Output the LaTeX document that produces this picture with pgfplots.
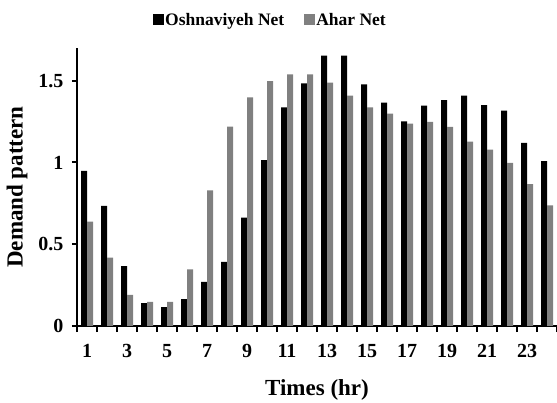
\documentclass[border=0pt]{standalone}
\usepackage{fontspec}
\setmainfont{Liberation Serif}
\usepackage{pgfplots}
\pgfplotsset{compat=1.18}
\definecolor{ahargray}{HTML}{808080}
\begin{document}
\begin{tikzpicture}
\useasboundingbox (0,0) rectangle (557bp,403bp);
\begin{axis}[
    at={(77bp,77bp)}, anchor=south west,
    width=480bp, height=278bp, scale only axis,
    font=\bfseries,
    /pgf/number format/assume math mode=true,
    ybar=0pt, bar width=6bp,
    xmin=0.5, xmax=24.5, ymin=0, ymax=1.7,
    axis x line*=bottom, axis y line*=left,
    axis line style={-, line width=2.5bp},
    xtick={1,3,...,23},
    minor xtick={0.5,1.5,...,24.5},
    major x tick style={draw=none},
    ytick={0,0.5,1,1.5},
    tick align=outside,
    major tick length=5bp, minor tick length=6bp,
    tick style={line width=2bp, black},
    xticklabel style={font=\fontsize{20bp}{20bp}\selectfont\bfseries, yshift=-10bp},
    yticklabel style={font=\fontsize{20bp}{20bp}\selectfont\bfseries, xshift=-5bp},
    xlabel={Times (hr)},
    ylabel={Demand pattern},
    xlabel style={font=\fontsize{23bp}{23bp}\selectfont\bfseries, at={(axis description cs:0.5,-0.23)}, anchor=center},
    ylabel style={font=\fontsize{23bp}{23bp}\selectfont\bfseries, at={(axis description cs:-0.125,0.5)}, anchor=center},
    legend columns=2,
    legend style={at={(axis description cs:0.402,1.10)}, anchor=center, draw=none,
        font=\fontsize{17.5bp}{17.5bp}\selectfont\bfseries,
        nodes={inner xsep=1.5bp},
        /tikz/every even column/.append style={column sep=18bp}},
]
\addplot[fill=black, draw=none,
    legend image code/.code={\fill[black] (0bp,-5bp) rectangle (11bp,6bp);}]
coordinates {(1,0.949) (2,0.734) (3,0.366) (4,0.140) (5,0.116) (6,0.165)
 (7,0.270) (8,0.392) (9,0.662) (10,1.014) (11,1.337) (12,1.484)
 (13,1.654) (14,1.654) (15,1.477) (16,1.366) (17,1.252) (18,1.347)
 (19,1.382) (20,1.408) (21,1.351) (22,1.317) (23,1.120) (24,1.008)};
\addlegendentry{Oshnaviyeh Net}
\addplot[fill=ahargray, draw=none,
    legend image code/.code={\fill[ahargray] (0bp,-5bp) rectangle (11bp,6bp);}]
coordinates {(1,0.638) (2,0.418) (3,0.191) (4,0.148) (5,0.148) (6,0.347)
 (7,0.829) (8,1.219) (9,1.398) (10,1.498) (11,1.538) (12,1.538)
 (13,1.488) (14,1.408) (15,1.337) (16,1.299) (17,1.238) (18,1.248)
 (19,1.217) (20,1.128) (21,1.079) (22,0.998) (23,0.868) (24,0.738)};
\addlegendentry{Ahar Net}
\end{axis}
\end{tikzpicture}
\end{document}
